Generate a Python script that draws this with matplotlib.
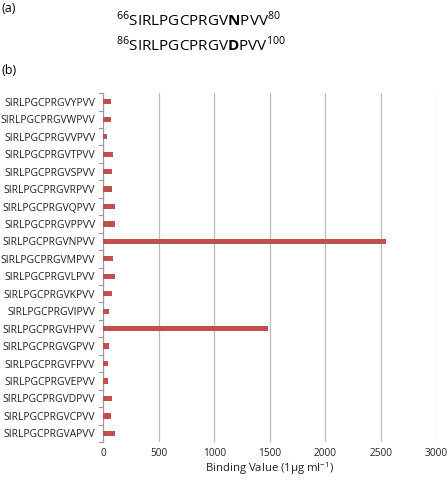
import matplotlib
matplotlib.use("Agg")
import matplotlib.pyplot as plt

plt.rcParams['font.family'] = ['Open Sans', 'DejaVu Sans']
plt.rcParams['mathtext.fontset'] = 'custom'
plt.rcParams['mathtext.rm'] = 'Open Sans'
plt.rcParams['mathtext.bf'] = 'Open Sans:bold'

# peptide variants, top to bottom as in the figure
peptides = ['SIRLPGCPRGVYPVV', 'SIRLPGCPRGVWPVV', 'SIRLPGCPRGVVPVV', 'SIRLPGCPRGVTPVV',
            'SIRLPGCPRGVSPVV', 'SIRLPGCPRGVRPVV', 'SIRLPGCPRGVQPVV', 'SIRLPGCPRGVPPVV',
            'SIRLPGCPRGVNPVV', 'SIRLPGCPRGVMPVV', 'SIRLPGCPRGVLPVV', 'SIRLPGCPRGVKPVV',
            'SIRLPGCPRGVIPVV', 'SIRLPGCPRGVHPVV', 'SIRLPGCPRGVGPVV', 'SIRLPGCPRGVFPVV',
            'SIRLPGCPRGVEPVV', 'SIRLPGCPRGVDPVV', 'SIRLPGCPRGVCPVV', 'SIRLPGCPRGVAPVV']
binding = [69, 69, 36, 87, 78, 81, 108, 105, 2549, 90, 108,
           81, 54, 1480, 48, 39, 42, 75, 66, 105]
xticks = [0, 500, 1000, 1500, 2000, 2500, 3000]

fig = plt.figure(figsize=(4.48, 4.8), dpi=100)
ax = fig.add_axes([0.231, 0.079, 0.743, 0.727])

ypos = list(range(len(peptides)))[::-1]
ax.barh(ypos, binding, height=0.3, color='#C0504D', zorder=3)

ax.set_xlim(0, 3000)
ax.set_ylim(-0.5, len(peptides) - 0.5)
ax.set_xticks(xticks)
ax.set_xticklabels([str(t) for t in xticks], fontsize=7.3, color='#222222')
ax.set_yticks(ypos)
ax.set_yticklabels(peptides, fontsize=7.5, color='#222222')
ax.tick_params(axis='y', length=0, pad=6)
ax.tick_params(axis='x', length=0, pad=4)

# category boundary ticks on the y axis
for b in range(len(peptides) + 1):
    ax.plot([-0.012, 0], [b - 0.5, b - 0.5], transform=ax.get_yaxis_transform(),
            color='#999999', lw=0.8, clip_on=False)

ax.grid(axis='x', color='#BBBBBB', lw=0.9, zorder=0)
for s in ['top', 'right', 'bottom']:
    ax.spines[s].set_visible(False)
ax.spines['left'].set_color('#999999')
ax.set_xlabel('Binding Value (1µg ml$^{-1}$)', fontsize=8.2, color='#222222', labelpad=1)

fig.text(0.003, 0.982, '(a)', fontsize=9, va='center')
fig.text(0.26, 0.958, r'$^{66}$SIRLPGCPRGV$\mathbf{N}$PVV$^{80}$', fontsize=11, va='center')
fig.text(0.26, 0.906, r'$^{86}$SIRLPGCPRGV$\mathbf{D}$PVV$^{100}$', fontsize=11, va='center')
fig.text(0.003, 0.853, '(b)', fontsize=9, va='center')

fig.savefig('out.png', dpi=100)
